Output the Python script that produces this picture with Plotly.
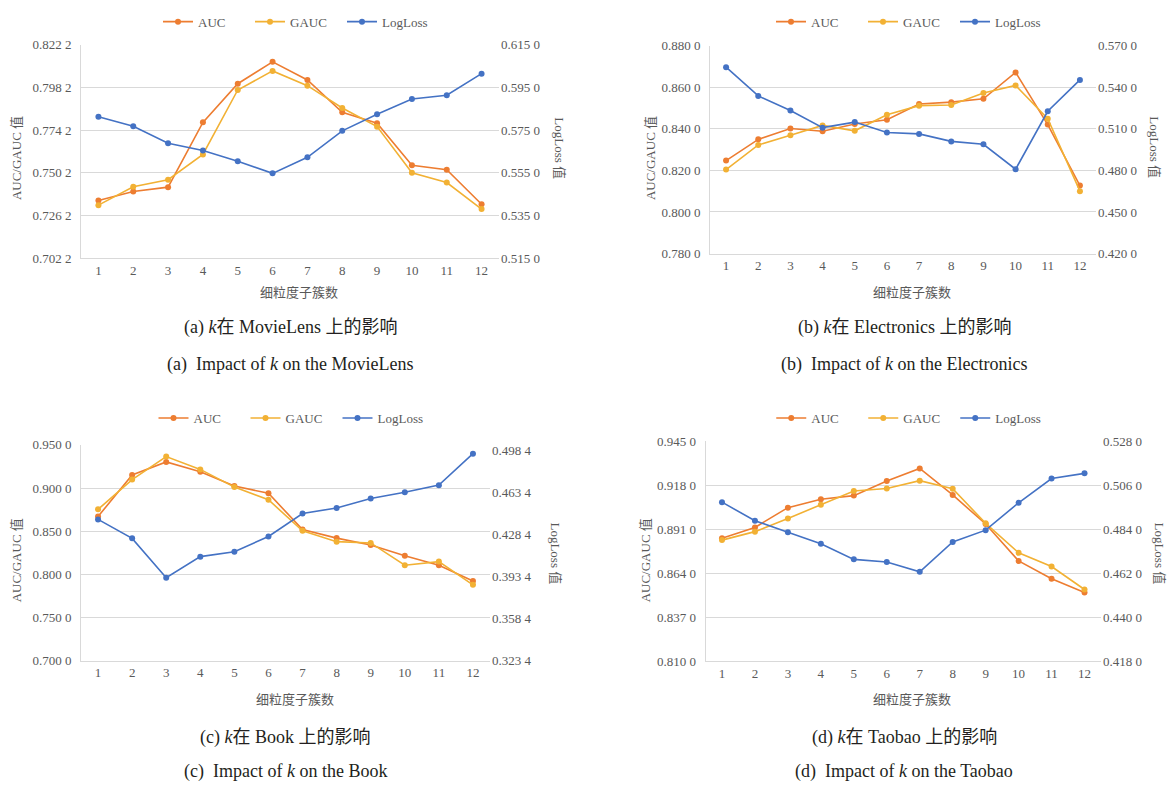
import plotly.graph_objects as go

# ---------------- data ----------------
k_values = list(range(1, 13))
k_labels = [str(v) for v in k_values]

movielens_auc = [0.7346, 0.7397, 0.7421, 0.7785, 0.8002, 0.8125, 0.8023, 0.7842, 0.7780, 0.7544, 0.7519, 0.7325]
movielens_gauc = [0.7320, 0.7423, 0.7463, 0.7605, 0.7967, 0.8074, 0.7991, 0.7866, 0.7761, 0.7502, 0.7447, 0.7298]
movielens_logloss = [0.5812, 0.5768, 0.5688, 0.5654, 0.5604, 0.5547, 0.5622, 0.5746, 0.5824, 0.5895, 0.5913, 0.6014]

electronics_auc = [0.8247, 0.8349, 0.8401, 0.8388, 0.8423, 0.8443, 0.8519, 0.8528, 0.8544, 0.8671, 0.8420, 0.8127]
electronics_gauc = [0.8204, 0.8322, 0.8369, 0.8416, 0.8390, 0.8467, 0.8511, 0.8514, 0.8572, 0.8608, 0.8448, 0.8100]
electronics_logloss = [0.5544, 0.5337, 0.5231, 0.5108, 0.5148, 0.5073, 0.5063, 0.5009, 0.4988, 0.4808, 0.5226, 0.5452]

book_auc = [0.8670, 0.9152, 0.9303, 0.9189, 0.9023, 0.8939, 0.8519, 0.8420, 0.8341, 0.8216, 0.8106, 0.7924]
book_gauc = [0.8754, 0.9098, 0.9364, 0.9216, 0.9011, 0.8864, 0.8504, 0.8379, 0.8364, 0.8106, 0.8148, 0.7879]
book_logloss = [0.4410, 0.4252, 0.3925, 0.4100, 0.4140, 0.4268, 0.4459, 0.4505, 0.4584, 0.4636, 0.4695, 0.4957]

taobao_auc = [0.8856, 0.8922, 0.9043, 0.9095, 0.9117, 0.9207, 0.9284, 0.9121, 0.8943, 0.8716, 0.8607, 0.8523]
taobao_gauc = [0.8844, 0.8896, 0.8977, 0.9061, 0.9145, 0.9161, 0.9209, 0.9159, 0.8947, 0.8766, 0.8682, 0.8541]
taobao_logloss = [0.4976, 0.4883, 0.4826, 0.4768, 0.4690, 0.4677, 0.4628, 0.4777, 0.4836, 0.4973, 0.5094, 0.5120]

series_names = ["AUC", "GAUC", "LogLoss"]
left_title = "AUC/GAUC 值"
right_title = "LogLoss 值"
x_title = "细粒度子簇数"

captions_cn = ["(a) <i>k</i>在 MovieLens 上的影响", "(b) <i>k</i>在 Electronics 上的影响",
               "(c) <i>k</i>在 Book 上的影响", "(d) <i>k</i>在 Taobao 上的影响"]
captions_en = ["(a)  Impact of <i>k</i> on the MovieLens", "(b)  Impact of <i>k</i> on the Electronics",
               "(c)  Impact of <i>k</i> on the Book", "(d)  Impact of <i>k</i> on the Taobao"]

# ---------------- styling / layout ----------------
W, H = 1168, 794
COLORS = ["#ED7D31", "#F2B134", "#4472C4"]
GRID = "#D9D9D9"
TXT = "#595959"
SERIF = "Liberation Serif, Times New Roman, Noto Sans CJK SC, serif"

panels = [
    dict(data=(movielens_auc, movielens_gauc, movielens_logloss),
         box=(81, 499, 38.3, 256), yl=(0.7022, 0.8222, 0.024), yr=(0.515, 0.615, 0.02, 5),
         lt=(16, 154), rt=(560, 144), xt=291, leg=15, cap=(290, 327, 364)),
    dict(data=(electronics_auc, electronics_gauc, electronics_logloss),
         box=(710, 1096, 39.3, 251.3), yl=(0.78, 0.88, 0.02), yr=(0.42, 0.57, 0.03, 5),
         lt=(650, 154), rt=(1155, 143), xt=291, leg=15, cap=(904, 327, 364)),
    dict(data=(book_auc, book_gauc, book_logloss),
         box=(81, 490, 446.3, 666.3), yl=(0.70, 0.95, 0.05), yr=(0.3234, 0.5030, 0.035, 5),
         lt=(16, 564), rt=(556, 557), xt=706, leg=419, cap=(285, 745, 779)),
    dict(data=(taobao_auc, taobao_gauc, taobao_logloss),
         box=(705.5, 1101, 442.7, 667), yl=(0.81, 0.945, 0.027), yr=(0.418, 0.528, 0.022, 5),
         lt=(645, 564), rt=(1160, 557), xt=706, leg=419, cap=(904, 745, 779)),
]


def fmt(v):
    s = f"{v:.4f}"
    return s[:-1] + " " + s[-1]


def text_at(text, px, py, size=13, angle=0, color=TXT):
    return dict(text=text, x=px / W, y=1 - py / H, xref="paper", yref="paper",
                xanchor="center", yanchor="middle", showarrow=False, textangle=angle,
                font=dict(family=SERIF, size=size, color=color))


fig = go.Figure()
layout = dict(width=W, height=H, margin=dict(l=0, r=0, t=0, b=0),
              paper_bgcolor="white", plot_bgcolor="white", annotations=[])

for i, p in enumerate(panels):
    xa = f"x{i + 1}"
    yl = f"y{2 * i + 1}"
    yr = f"y{2 * i + 2}"
    leg = "legend" if i == 0 else f"legend{i + 1}"
    x0, x1, t, b = p["box"]
    for j, (name, vals) in enumerate(zip(series_names, p["data"])):
        fig.add_trace(go.Scatter(
            x=k_values, y=vals, name=name, mode="lines+markers",
            line=dict(color=COLORS[j], width=1.6),
            marker=dict(color=COLORS[j], size=6),
            xaxis=xa, yaxis=yr if j == 2 else yl, legend=leg))

    xkey = "xaxis" if i == 0 else f"xaxis{i + 1}"
    ylkey = f"yaxis{2 * i + 1}" if i > 0 else "yaxis"
    yrkey = f"yaxis{2 * i + 2}"

    layout[xkey] = dict(domain=[x0 / W, x1 / W], anchor=yl, range=[0.5, 12.5],
                        tickmode="array", tickvals=k_values, ticktext=k_labels,
                        showgrid=False, zeroline=False, showline=True, linecolor=GRID,
                        linewidth=1, ticks="", tickfont=dict(family=SERIF, size=13, color=TXT),
                        fixedrange=True)
    lo, hi, st = p["yl"]
    n = int(round((hi - lo) / st))
    lv = [round(lo + st * m, 4) for m in range(n + 1)]
    layout[ylkey] = dict(domain=[1 - b / H, 1 - t / H], anchor=xa, range=[lo, hi],
                         tickmode="array", tickvals=lv, ticktext=[fmt(v) for v in lv],
                         showgrid=True, gridcolor=GRID, gridwidth=1, zeroline=False,
                         showline=True, linecolor=GRID, ticks="", ticklabelstandoff=6,
                         tickfont=dict(family=SERIF, size=13, color=TXT), fixedrange=True)
    rlo, rhi, rst, rn = p["yr"]
    rv = [round(rlo + rst * m, 4) for m in range(rn + 1)]
    layout[yrkey] = dict(overlaying=yl, side="right", anchor=xa, range=[rlo, rhi],
                         tickmode="array", tickvals=rv, ticktext=[fmt(v) for v in rv],
                         showgrid=False, zeroline=False, showline=False, ticks="",
                         ticklabelstandoff=1,
                         tickfont=dict(family=SERIF, size=13, color=TXT), fixedrange=True)

    cx = (x0 + x1) / 2
    layout[leg] = dict(orientation="h", x=(cx + 6) / W, xanchor="center", y=1 - p["leg"] / H,
                       yanchor="middle",
                       font=dict(family=SERIF, size=13, color=TXT),
                       entrywidth=47, entrywidthmode="pixels", bgcolor="rgba(0,0,0,0)",
                       itemclick=False, itemdoubleclick=False)

    ann = layout["annotations"]
    ann.append(text_at(left_title, p["lt"][0], p["lt"][1], angle=-90))
    ann.append(text_at(right_title, p["rt"][0], p["rt"][1], angle=90))
    ann.append(text_at(x_title, cx + 9, p["xt"]))
    capx, capy1, capy2 = p["cap"]
    ann.append(text_at(captions_cn[i], capx, capy1, size=18, color="#231F20"))
    ann.append(text_at(captions_en[i], capx, capy2, size=18, color="#231F20"))

fig.update_layout(**layout)
fig.write_html("out.html", config={"displayModeBar": False},
               post_script="document.body.style.margin='0';document.body.style.overflow='hidden';")
